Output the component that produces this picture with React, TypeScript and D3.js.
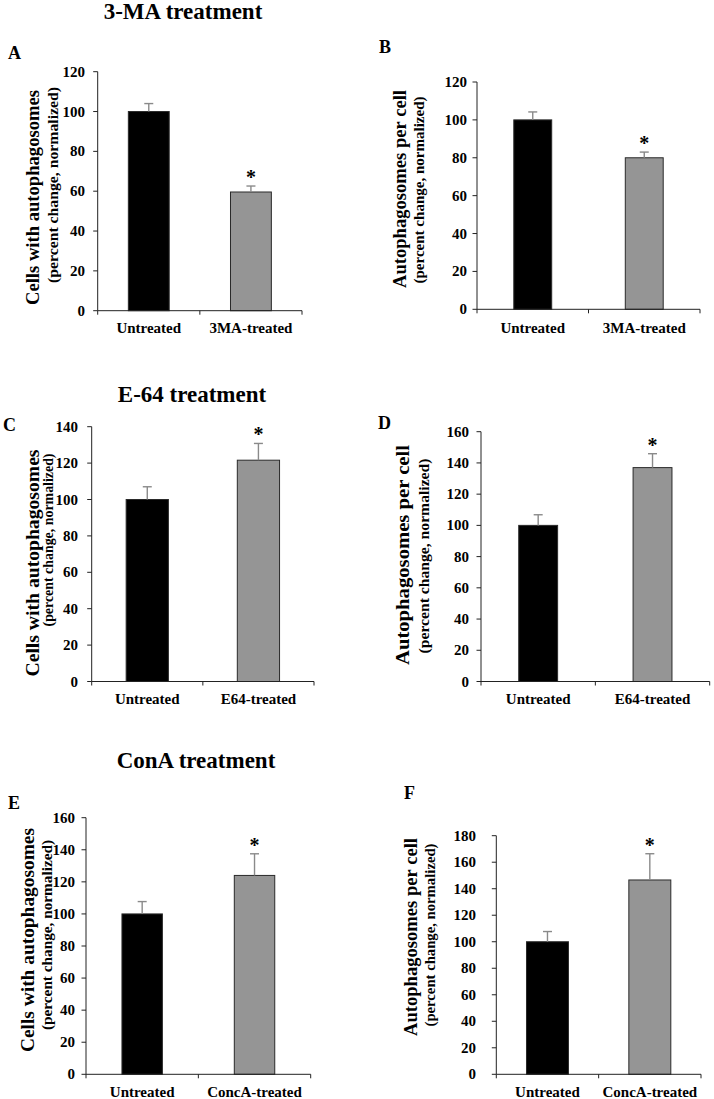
import React from "react";
import * as d3 from "d3";

// ---------- data ----------
const catsA = ["Untreated", "3MA-treated"];
const valsA = [100, 59.6];
const errsA = [4.0, 3.0];
const ticksA = [0, 20, 40, 60, 80, 100, 120];

const catsB = ["Untreated", "3MA-treated"];
const valsB = [100, 80.0];
const errsB = [4.2, 3.0];
const ticksB = [0, 20, 40, 60, 80, 100, 120];

const catsC = ["Untreated", "E64-treated"];
const valsC = [100, 121.6];
const errsC = [7.0, 9.2];
const ticksC = [0, 20, 40, 60, 80, 100, 120, 140];

const catsD = ["Untreated", "E64-treated"];
const valsD = [100, 137.0];
const errsD = [6.8, 8.9];
const ticksD = [0, 20, 40, 60, 80, 100, 120, 140, 160];

const catsE = ["Untreated", "ConcA-treated"];
const valsE = [100, 124.0];
const errsE = [7.7, 13.5];
const ticksE = [0, 20, 40, 60, 80, 100, 120, 140, 160];

const catsF = ["Untreated", "ConcA-treated"];
const valsF = [100, 146.6];
const errsF = [7.7, 19.8];
const ticksF = [0, 20, 40, 60, 80, 100, 120, 140, 160, 180];

const significant = [false, true];

const sectionTitles = ["3-MA treatment", "E-64 treatment", "ConA treatment"];
const titleCells = "Cells with autophagosomes";
const titleAuto = "Autophagosomes per cell";
const subtitle = "(percent change, normalized)";

// ---------- layout (positions/styles only) ----------
const FONT = "'Liberation Serif', 'Times New Roman', serif";
const barColors = ["#000000", "#959595"];

const sectionLayout = [
  { x: 183, y: 19 },
  { x: 192, y: 402 },
  { x: 196, y: 768 },
];

const panels = [
  { letter: "A", lx: 8, ly: 59, cats: catsA, vals: valsA, errs: errsA, ticks: ticksA,
    x0: 97.7, x1: 302, yTop: 71.7, y0: 310.7, pad: 0.6, tickRight: 85,
    title: titleCells, tX: 32, tY: 197.5, tLen: 215, sX: 53, sY: 185, sLen: 196, xlY: 332.5 },
  { letter: "B", lx: 379, ly: 53, cats: catsB, vals: valsB, errs: errsB, ticks: ticksB,
    x0: 477, x1: 700, yTop: 82, y0: 309.3, pad: 0.66, tickRight: 467,
    title: titleAuto, tX: 399, tY: 189, tLen: 198, sX: 419, sY: 190, sLen: 187, xlY: 332.5 },
  { letter: "C", lx: 3, ly: 431, cats: catsC, vals: valsC, errs: errsC, ticks: ticksC,
    x0: 91.7, x1: 314, yTop: 426.7, y0: 681.5, pad: 0.62, tickRight: 78,
    title: titleCells, tX: 32, tY: 563, tLen: 227, sX: 48, sY: 540, sLen: 173, xlY: 703.5 },
  { letter: "D", lx: 378, ly: 429, cats: catsD, vals: valsD, errs: errsD, ticks: ticksD,
    x0: 481, x1: 709.7, yTop: 431.7, y0: 681.5, pad: 0.66, tickRight: 469,
    title: titleAuto, tX: 402, tY: 555, tLen: 220, sX: 424, sY: 556, sLen: 195, xlY: 703.5 },
  { letter: "E", lx: 8, ly: 809, cats: catsE, vals: valsE, errs: errsE, ticks: ticksE,
    x0: 86, x1: 310.7, yTop: 817.7, y0: 1074.3, pad: 0.64, tickRight: 75,
    title: titleCells, tX: 27, tY: 940, tLen: 224, sX: 47, sY: 935, sLen: 190, xlY: 1097 },
  { letter: "F", lx: 404, ly: 799, cats: catsF, vals: valsF, errs: errsF, ticks: ticksF,
    x0: 496.3, x1: 701, yTop: 835.7, y0: 1074.3, pad: 0.59, tickRight: 476,
    title: titleAuto, tX: 410, tY: 937, tLen: 198, sX: 430, sY: 935, sLen: 183, xlY: 1097 },
];

function Panel({ p }: { p: (typeof panels)[number] }) {
  const maxT = p.ticks[p.ticks.length - 1];
  const y = d3.scaleLinear().domain([0, maxT]).range([p.y0, p.yTop]);
  const x = d3
    .scaleBand<string>()
    .domain(p.cats)
    .range([p.x0, p.x1])
    .paddingInner(p.pad)
    .paddingOuter(p.pad / 2);
  const step = x.step();
  const bw = x.bandwidth();
  const boundaries = d3.range(p.cats.length + 1).map((i) => p.x0 + i * step);
  const axisColor = "#222";
  return (
    <g>
      <text x={p.lx} y={p.ly} fontFamily={FONT} fontWeight="bold" fontSize={18}>
        {p.letter}
      </text>
      <text
        transform={`translate(${p.tX},${p.tY}) rotate(-90)`}
        textAnchor="middle"
        dominantBaseline="central"
        fontFamily={FONT}
        fontWeight="bold"
        fontSize={19}
        textLength={p.tLen}
        lengthAdjust="spacingAndGlyphs"
      >
        {p.title}
      </text>
      <text
        transform={`translate(${p.sX},${p.sY}) rotate(-90)`}
        textAnchor="middle"
        dominantBaseline="central"
        fontFamily={FONT}
        fontWeight="bold"
        fontSize={14.5}
        textLength={p.sLen}
        lengthAdjust="spacingAndGlyphs"
      >
        {subtitle}
      </text>
      {p.ticks.map((t) => (
        <g key={t}>
          <line x1={p.x0 - 4.5} x2={p.x0} y1={y(t)} y2={y(t)} stroke={axisColor} strokeWidth={1} />
          <text
            x={p.tickRight}
            y={y(t)}
            textAnchor="end"
            dominantBaseline="central"
            fontFamily={FONT}
            fontWeight="bold"
            fontSize={15}
          >
            {t}
          </text>
        </g>
      ))}
      {p.cats.map((c, i) => {
        const bx = x(c)!;
        const top = y(p.vals[i]);
        const etop = y(p.vals[i] + p.errs[i]);
        const cx = bx + bw / 2;
        return (
          <g key={c}>
            <rect
              x={bx}
              y={top}
              width={bw}
              height={p.y0 - top}
              fill={barColors[i]}
              stroke="#2a2a2a"
              strokeWidth={1}
            />
            <line x1={cx} x2={cx} y1={top} y2={etop} stroke="#8a8a8a" strokeWidth={1.4} />
            <line x1={cx - 4.5} x2={cx + 4.5} y1={etop} y2={etop} stroke="#8a8a8a" strokeWidth={1.4} />
            {significant[i] && (
              <text
                x={cx}
                y={etop - 2}
                textAnchor="middle"
                fontFamily={FONT}
                fontWeight="bold"
                fontSize={20}
              >
                *
              </text>
            )}
            <text
              x={cx}
              y={p.xlY}
              textAnchor="middle"
              fontFamily={FONT}
              fontWeight="bold"
              fontSize={15}
            >
              {c}
            </text>
          </g>
        );
      })}
      <line x1={p.x0} x2={p.x0} y1={p.yTop} y2={p.y0} stroke={axisColor} strokeWidth={1} />
      <line x1={p.x0} x2={p.x1} y1={p.y0} y2={p.y0} stroke={axisColor} strokeWidth={1} />
      {boundaries.map((bx, i) => (
        <line key={i} x1={bx} x2={bx} y1={p.y0} y2={p.y0 + 4} stroke={axisColor} strokeWidth={1} />
      ))}
    </g>
  );
}

export default function App() {
  return (
    <svg
      width={714}
      height={1099}
      style={{ position: "absolute", left: 0, top: 0, background: "#fff" }}
    >
      <rect x={0} y={0} width={714} height={1099} fill="#fff" />
      {sectionTitles.map((t, i) => (
        <text
          key={t}
          x={sectionLayout[i].x}
          y={sectionLayout[i].y}
          textAnchor="middle"
          fontFamily={FONT}
          fontWeight="bold"
          fontSize={23}
        >
          {t}
        </text>
      ))}
      {panels.map((p) => (
        <Panel key={p.letter} p={p} />
      ))}
    </svg>
  );
}
